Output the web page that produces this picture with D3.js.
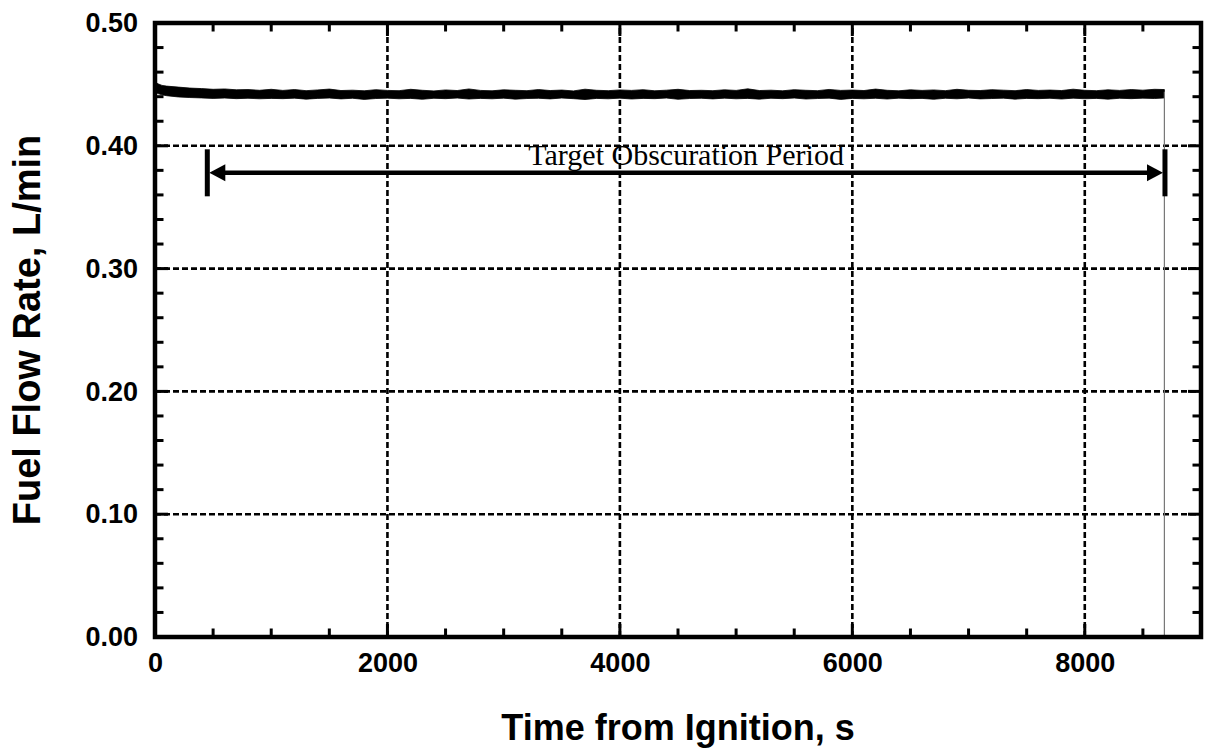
<!DOCTYPE html>
<html>
<head>
<meta charset="utf-8">
<script src="https://cdn.jsdelivr.net/npm/d3@7"></script>
<style>
  html, body { margin: 0; padding: 0; background: #fff; }
  svg { display: block; }
</style>
</head>
<body>
<svg id="chart" width="1206" height="748"></svg>
<script>
// ---------- data ----------
const xMajorTicks = [0, 2000, 4000, 6000, 8000];
const xTickLabels = ["0", "2000", "4000", "6000", "8000"];
const yMajorTicks = [0.0, 0.1, 0.2, 0.3, 0.4, 0.5];
const yTickLabels = ["0.00", "0.10", "0.20", "0.30", "0.40", "0.50"];
const xMinorStep = 500;
const yMinorStep = 0.02;
const xDomain = [0, 9000];
const yDomain = [0, 0.5];

const xTitle = "Time from Ignition, s";
const yTitle = "Fuel Flow Rate, L/min";

// fuel flow rate trace: upper and lower edges of the noisy band
const flowTime = [0, 25, 60, 100, 200, 300, 400, 500, 600, 700, 800, 900, 1000,
  1100, 1200, 1300, 1400, 1500, 1600, 1700, 1800, 1900, 2000,
  2100, 2200, 2300, 2400, 2500, 2600, 2700, 2800, 2900, 3000,
  3100, 3200, 3300, 3400, 3500, 3600, 3700, 3800, 3900, 4000,
  4100, 4200, 4300, 4400, 4500, 4600, 4700, 4800, 4900, 5000,
  5100, 5200, 5300, 5400, 5500, 5600, 5700, 5800, 5900, 6000,
  6100, 6200, 6300, 6400, 6500, 6600, 6700, 6800, 6900, 7000,
  7100, 7200, 7300, 7400, 7500, 7600, 7700, 7800, 7900, 8000,
  8100, 8200, 8300, 8400, 8500, 8600, 8685];
const flowHigh = [0.4525, 0.4505, 0.4492, 0.4486, 0.4478, 0.4470, 0.4466, 0.4460, 0.4463, 0.4456, 0.4458, 0.4452, 0.4460,
  0.4451, 0.4458, 0.4449, 0.4455, 0.4462, 0.4450, 0.4453, 0.4448, 0.4457, 0.4451,
  0.4449, 0.4460, 0.4452, 0.4447, 0.4455, 0.4450, 0.4463, 0.4451, 0.4448, 0.4456,
  0.4452, 0.4449, 0.4458, 0.4450, 0.4454, 0.4447, 0.4461, 0.4452, 0.4449, 0.4455,
  0.4451, 0.4457, 0.4448, 0.4453, 0.4460, 0.4450, 0.4452, 0.4449, 0.4456, 0.4451,
  0.4464, 0.4450, 0.4453, 0.4448, 0.4457, 0.4452, 0.4449, 0.4459, 0.4451, 0.4454,
  0.4450, 0.4462, 0.4452, 0.4448, 0.4456, 0.4451, 0.4455, 0.4449, 0.4460, 0.4452,
  0.4450, 0.4457, 0.4453, 0.4449, 0.4458, 0.4451, 0.4454, 0.4450, 0.4461, 0.4452,
  0.4449, 0.4456, 0.4451, 0.4458, 0.4453, 0.4460, 0.4458];
const flowLow = [0.4440, 0.4425, 0.4415, 0.4408, 0.4398, 0.4393, 0.4390, 0.4386, 0.4389, 0.4384, 0.4387, 0.4383, 0.4386,
  0.4384, 0.4388, 0.4380, 0.4386, 0.4389, 0.4382, 0.4387, 0.4378, 0.4385, 0.4388,
  0.4383, 0.4386, 0.4379, 0.4387, 0.4384, 0.4389, 0.4381, 0.4386, 0.4383, 0.4388,
  0.4380, 0.4385, 0.4387, 0.4382, 0.4389, 0.4384, 0.4377, 0.4386, 0.4383, 0.4388,
  0.4381, 0.4386, 0.4384, 0.4389, 0.4379, 0.4385, 0.4387, 0.4382, 0.4388, 0.4383,
  0.4386, 0.4380, 0.4387, 0.4384, 0.4389, 0.4381, 0.4385, 0.4388, 0.4378, 0.4386,
  0.4383, 0.4387, 0.4381, 0.4388, 0.4384, 0.4386, 0.4379, 0.4387, 0.4383, 0.4389,
  0.4382, 0.4385, 0.4388, 0.4380, 0.4386, 0.4384, 0.4387, 0.4381, 0.4388, 0.4383,
  0.4386, 0.4380, 0.4387, 0.4384, 0.4388, 0.4385, 0.4390];
// end of fuel flow: drop to zero
const flowEndTime = 8685;
const flowEndValue = 0.4440;

// target obscuration period annotation
const periodStart = 450;
const periodEnd = 8690;
const periodLevel = 0.378;
const periodLabel = "Target Obscuration Period";

// ---------- layout ----------
const svg = d3.select("#chart");
const L = 155, R = 1201, T = 23, B = 637;

const x = d3.scaleLinear().domain(xDomain).range([L, R]);
const y = d3.scaleLinear().domain(yDomain).range([B, T]);

const xMinor = d3.range(xDomain[0], xDomain[1] + 1e-9, xMinorStep).filter(v => v > xDomain[0] && v < xDomain[1]);
const yMinor = d3.range(yDomain[0], yDomain[1] + 1e-9, yMinorStep).map(v => +v.toFixed(4)).filter(v => v > yDomain[0] && v < yDomain[1]);

// grid lines (dashed) at major ticks
const grid = svg.append("g");
grid.selectAll("line.gx").data(xMajorTicks.filter(v => v > xDomain[0] && v < xDomain[1]))
  .join("line").attr("class", "gx")
  .attr("x1", d => x(d)).attr("x2", d => x(d))
  .attr("y1", B).attr("y2", T)
  .attr("stroke", "#000").attr("stroke-width", 2.6).attr("stroke-dasharray", "6,3");
grid.selectAll("line.gy").data(yMajorTicks.filter(v => v > yDomain[0] && v < yDomain[1]))
  .join("line").attr("class", "gy")
  .attr("x1", L).attr("x2", R)
  .attr("y1", d => y(d)).attr("y2", d => y(d))
  .attr("stroke", "#000").attr("stroke-width", 2.6).attr("stroke-dasharray", "6,3");

// data band
const area = d3.area()
  .x((d, i) => x(flowTime[i]))
  .y0((d, i) => y(flowLow[i]))
  .y1((d, i) => y(flowHigh[i]))
  .curve(d3.curveLinear);
svg.append("path")
  .datum(flowTime)
  .attr("d", area)
  .attr("fill", "#000")
  .attr("stroke", "#000")
  .attr("stroke-width", 0.8);

// drop line to zero
svg.append("line")
  .attr("x1", x(flowEndTime)).attr("x2", x(flowEndTime))
  .attr("y1", y(flowEndValue)).attr("y2", y(0))
  .attr("stroke", "#777").attr("stroke-width", 1.2);

// annotation arrow
const ann = svg.append("g");
const ay = y(periodLevel);
const ax1 = x(periodStart), ax2 = x(periodEnd);
const headLen = 16, headHalf = 8.5;
ann.append("line")
  .attr("x1", ax1 + headLen - 2).attr("x2", ax2 - headLen + 2)
  .attr("y1", ay).attr("y2", ay)
  .attr("stroke", "#000").attr("stroke-width", 4.5);
ann.append("path")
  .attr("d", `M${ax1 + 2},${ay} L${ax1 + 2 + headLen},${ay - headHalf} L${ax1 + 2 + headLen},${ay + headHalf} Z`)
  .attr("fill", "#000");
ann.append("path")
  .attr("d", `M${ax2 - 2},${ay} L${ax2 - 2 - headLen},${ay - headHalf} L${ax2 - 2 - headLen},${ay + headHalf} Z`)
  .attr("fill", "#000");
[ax1, ax2].forEach(px => {
  ann.append("line")
    .attr("x1", px).attr("x2", px)
    .attr("y1", ay - 23.5).attr("y2", ay + 23.5)
    .attr("stroke", "#000").attr("stroke-width", 5);
});
ann.append("text")
  .attr("x", (ax1 + ax2) / 2).attr("y", ay - 8)
  .attr("text-anchor", "middle")
  .attr("font-family", "'Liberation Serif', 'Times New Roman', serif")
  .attr("font-size", 30)
  .attr("fill", "#000")
  .text(periodLabel);

// ticks (inward, all four sides)
const ticks = svg.append("g").attr("stroke", "#000").attr("stroke-width", 3);
const majLen = 13, minLen = 8.5;
function vTicks(vals, len) {
  vals.forEach(v => {
    ticks.append("line").attr("x1", x(v)).attr("x2", x(v)).attr("y1", B).attr("y2", B - len);
    ticks.append("line").attr("x1", x(v)).attr("x2", x(v)).attr("y1", T).attr("y2", T + len);
  });
}
function hTicks(vals, len) {
  vals.forEach(v => {
    ticks.append("line").attr("y1", y(v)).attr("y2", y(v)).attr("x1", L).attr("x2", L + len);
    ticks.append("line").attr("y1", y(v)).attr("y2", y(v)).attr("x1", R).attr("x2", R - len);
  });
}
vTicks(xMinor.filter(v => !xMajorTicks.includes(v)), minLen);
vTicks(xMajorTicks, majLen);
hTicks(yMinor.filter(v => !yMajorTicks.some(m => Math.abs(m - v) < 1e-6)), minLen);
hTicks(yMajorTicks, majLen);

// frame
svg.append("rect")
  .attr("x", L).attr("y", T)
  .attr("width", R - L).attr("height", B - T)
  .attr("fill", "none").attr("stroke", "#000").attr("stroke-width", 4.5);

// tick labels via d3 axes
const xAxis = d3.axisBottom(x).tickValues(xMajorTicks)
  .tickFormat((d, i) => xTickLabels[i]).tickSize(0).tickPadding(16);
const gx = svg.append("g").attr("transform", `translate(0,${B})`).call(xAxis);
gx.select(".domain").remove();
gx.selectAll("text")
  .attr("font-family", "'Liberation Sans', Arial, sans-serif")
  .attr("font-weight", "bold").attr("font-size", 27).attr("fill", "#000");

const yAxis = d3.axisLeft(y).tickValues(yMajorTicks)
  .tickFormat((d, i) => yTickLabels[i]).tickSize(0).tickPadding(17);
const gy = svg.append("g").attr("transform", `translate(${L},0)`).call(yAxis);
gy.select(".domain").remove();
gy.selectAll("text")
  .attr("font-family", "'Liberation Sans', Arial, sans-serif")
  .attr("font-weight", "bold").attr("font-size", 27).attr("fill", "#000");

// axis titles
svg.append("text")
  .attr("x", (L + R) / 2).attr("y", 740)
  .attr("text-anchor", "middle")
  .attr("font-family", "'Liberation Sans', Arial, sans-serif")
  .attr("font-weight", "bold").attr("font-size", 36).attr("fill", "#000")
  .text(xTitle);
svg.append("text")
  .attr("transform", `translate(40,${(T + B) / 2}) rotate(-90)`)
  .attr("text-anchor", "middle")
  .attr("font-family", "'Liberation Sans', Arial, sans-serif")
  .attr("font-weight", "bold").attr("font-size", 38).attr("fill", "#000")
  .text(yTitle);
</script>
</body>
</html>
